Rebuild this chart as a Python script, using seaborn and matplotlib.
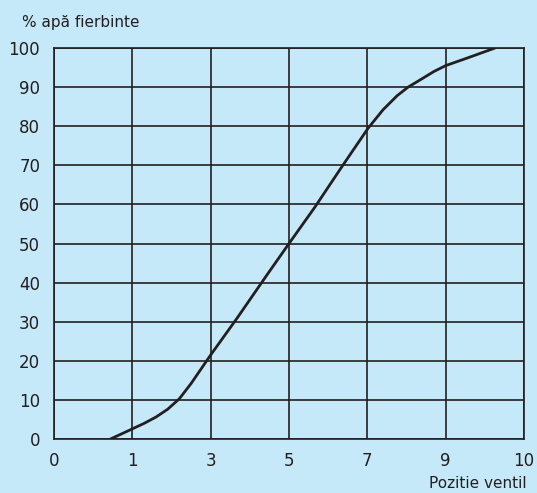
import numpy as np
import pandas as pd
import seaborn as sns
from matplotlib import pyplot as plt

# valve position curve (x in grid steps, labels below)
tick_labels = ['0', '1', '3', '5', '7', '9', '10']
pos = [0.72, 0.85, 1.0, 1.15, 1.3, 1.45, 1.6, 1.75, 2.0, 2.34, 2.73, 3.0, 3.33, 3.68, 4.01, 4.2, 4.38, 4.52, 4.67, 4.85, 5.0, 5.27, 5.63]
hot_water = [0, 1.2, 2.6, 4.0, 5.6, 7.6, 10.3, 14.2, 21.5, 31.0, 42.3, 50, 59.3, 69.8, 79.5, 84.2, 87.8, 90.0, 91.8, 94.0, 95.5, 97.4, 100]

df = pd.DataFrame({'pos': pos, 'pct': hot_water})

bg = '#C6E9F9'
ink = '#231F20'

sns.set_style('white')
plt.rcParams['font.family'] = ['DejaVu Sans']

fig = plt.figure(figsize=(5.37, 4.93), dpi=100, facecolor=bg)
ax = fig.add_axes([0.1006, 0.1095, 0.8752, 0.7931])
ax.set_facecolor(bg)

sns.lineplot(data=df, x='pos', y='pct', color=ink, linewidth=2.0, ax=ax)

ax.set_xlim(0, 6)
ax.set_ylim(0, 100)
ax.set_xticks(range(7))
ax.set_xticklabels(tick_labels)
ax.set_yticks(np.arange(0, 101, 10))
ax.grid(True, color=ink, linewidth=1.2)
ax.tick_params(length=0, labelsize=12, colors=ink)
ax.tick_params(axis='x', pad=9)
ax.tick_params(axis='y', pad=10)
for s in ax.spines.values():
    s.set_color(ink)
    s.set_linewidth(1.2)
ax.set_xlabel('')
ax.set_ylabel('')

fig.text(0.041, 0.955, '% apă fierbinte', fontsize=11, color=ink, va='center', ha='left')
fig.text(0.98, 0.02, 'Pozitie ventil', fontsize=11, color=ink, va='center', ha='right')

fig.savefig('out.png', dpi=100, facecolor=bg)
